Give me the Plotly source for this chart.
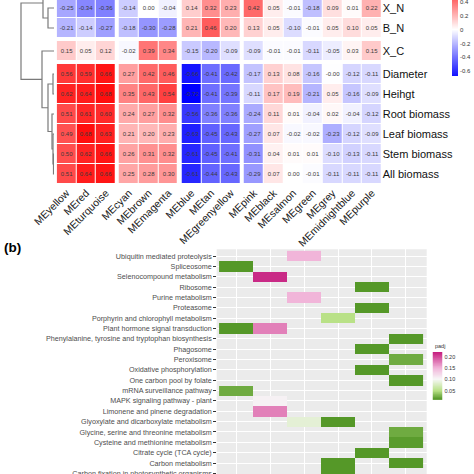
import numpy as np
import plotly.graph_objects as go

W, H = 474, 474
FONT = "Arial, Liberation Sans, sans-serif"

# ---------------- (a) module-trait correlation data ----------------
modules = ["MEyellow", "MEred", "MEturquoise", "MEcyan", "MEbrown", "MEmagenta",
           "MEblue", "MEtan", "MEgreenyellow", "MEpink", "MEblack", "MEsalmon",
           "MEgreen", "MEgrey", "MEmidnightblue", "MEpurple"]
traits = ["X_N", "B_N", "X_C", "Diameter", "Heihgt", "Root biomass",
          "Leaf biomass", "Stem biomass", "All biomass"]
col_groups = [3, 3, 3, 7]
row_groups = [2, 1, 6]

r_X_N = [-0.25, -0.34, -0.36, -0.14, 0.00, -0.04, 0.14, 0.32, 0.23, 0.42, 0.05, -0.01, -0.18, 0.09, 0.01, 0.22]
r_B_N = [-0.21, -0.14, -0.27, -0.18, -0.30, -0.28, 0.21, 0.46, 0.20, 0.13, 0.05, -0.10, -0.01, 0.05, 0.10, 0.05]
r_X_C = [0.15, 0.05, 0.12, -0.02, 0.39, 0.34, -0.15, -0.20, -0.09, -0.09, -0.01, -0.01, -0.11, -0.05, 0.03, 0.15]
r_Diameter = [0.56, 0.59, 0.66, 0.27, 0.42, 0.46, -0.66, -0.41, -0.42, -0.17, 0.13, 0.08, -0.16, -0.004, -0.12, -0.11]
r_Height = [0.62, 0.64, 0.68, 0.35, 0.43, 0.54, -0.72, -0.41, -0.39, -0.11, 0.17, 0.19, -0.21, 0.05, -0.16, -0.09]
r_Root = [0.51, 0.61, 0.60, 0.24, 0.27, 0.32, -0.56, -0.36, -0.36, -0.24, 0.11, 0.01, -0.04, 0.02, -0.04, -0.12]
r_Leaf = [0.49, 0.68, 0.63, 0.21, 0.20, 0.23, -0.63, -0.45, -0.43, -0.27, 0.07, -0.02, -0.02, -0.23, -0.12, -0.09]
r_Stem = [0.50, 0.62, 0.66, 0.26, 0.31, 0.32, -0.61, -0.45, -0.41, -0.31, 0.04, 0.01, 0.01, -0.10, -0.13, -0.11]
r_All = [0.51, 0.64, 0.66, 0.25, 0.28, 0.30, -0.61, -0.44, -0.43, -0.29, 0.07, 0.00, -0.01, -0.11, -0.11, -0.11]
corr_rows = [r_X_N, r_B_N, r_X_C, r_Diameter, r_Height, r_Root, r_Leaf, r_Stem, r_All]
corr_ticks = [-0.6, -0.4, -0.2, 0, 0.2, 0.4, 0.6]
corr_limits = [-0.72, 0.72]
corr_legend_bottom = -0.672

# row dendrogram (merge list: left, right, height); "above" is a row cut off above the view
dendro_links = [
    ("Stem biomass", "All biomass", 0.5),
    ("Leaf biomass", "n0", 1.0),
    ("Root biomass", "n1", 2.0),
    ("Diameter", "Heihgt", 1.0),
    ("n3", "n2", 6.0),
    ("X_C", "n4", 12.0),
    ("X_N", "B_N", 6.0),
    ("above", "n6", 11.0),
    ("n7", "n5", 33.0),
]

# ---------------- (b) KEGG enrichment data ----------------
pathways = ["Ubiquitin mediated proteolysis", "Spliceosome", "Selenocompound metabolism",
            "Ribosome", "Purine metabolism", "Proteasome",
            "Porphyrin and chlorophyll metabolism", "Plant hormone signal transduction",
            "Phenylalanine, tyrosine and tryptophan biosynthesis", "Phagosome", "Peroxisome",
            "Oxidative phosphorylation", "One carbon pool by folate", "mRNA surveillance pathway",
            "MAPK signaling pathway - plant", "Limonene and pinene degradation",
            "Glyoxylate and dicarboxylate metabolism", "Glycine, serine and threonine metabolism",
            "Cysteine and methionine metabolism", "Citrate cycle (TCA cycle)", "Carbon metabolism",
            "Carbon fixation in photosynthetic organisms"]
N = None
padj_g1 = [N, 0.012, N, N, N, N, N, 0.012, N, N, N, N, N, 0.022, N, N, N, N, N, N, N, N]
padj_g2 = [N, N, 0.215, N, N, N, N, 0.175, N, N, N, N, N, N, 0.105, 0.175, N, N, N, N, N, N]
padj_g3 = [0.15, N, N, N, 0.15, N, N, N, N, N, N, N, N, N, N, N, 0.085, N, N, N, N, N]
padj_g4 = [N, N, N, N, N, N, 0.05, N, N, N, N, N, N, N, N, N, 0.012, N, N, N, 0.012, 0.012]
padj_g5 = [N, N, N, 0.012, N, 0.012, N, N, N, 0.012, N, 0.012, N, N, N, N, N, N, N, 0.012, N, N]
padj_g6 = [N, N, N, N, N, N, N, N, 0.012, N, 0.022, N, 0.012, N, N, N, N, 0.022, 0.014, N, 0.012, N]
padj_cols = [padj_g1, padj_g2, padj_g3, padj_g4, padj_g5, padj_g6]
padj_ticks = [0.05, 0.10, 0.15, 0.20]
padj_limits = [0.009, 0.222]

CS_TOP = [[0, "#0000FF"], [0.5, "#FFFFFF"], [1, "#FF0000"]]
CS_BOT = [[0, "#4D9221"], [0.19, "#B8E186"], [0.43, "#F7F7F7"], [0.66, "#F1B6DA"], [1, "#C51B7D"]]

# ---------------- build top heatmap with cluster gaps ----------------
GAPX = 0.18
GAPY = 0.15

def edges_with_gaps(groups, gap):
    edges, kinds = [0.0], []
    for gi, g in enumerate(groups):
        for _ in range(g):
            edges.append(edges[-1] + 1.0)
            kinds.append("cell")
        if gi < len(groups) - 1:
            edges.append(edges[-1] + gap)
            kinds.append("gap")
    return edges, kinds

x_edges, x_kinds = edges_with_gaps(col_groups, GAPX)
y_edges, y_kinds = edges_with_gaps(row_groups, GAPY)

x_centers = [(x_edges[i] + x_edges[i + 1]) / 2 for i, k in enumerate(x_kinds) if k == "cell"]
y_centers = [(y_edges[i] + y_edges[i + 1]) / 2 for i, k in enumerate(y_kinds) if k == "cell"]

z_full, t_full = [], []
ri = 0
for yk in y_kinds:
    if yk == "gap":
        z_full.append([np.nan] * len(x_kinds))
        t_full.append([""] * len(x_kinds))
        continue
    row = corr_rows[ri]
    zr, tr = [], []
    ci = 0
    for xk in x_kinds:
        if xk == "gap":
            zr.append(np.nan)
            tr.append("")
        else:
            zr.append(row[ci])
            tr.append(f"{row[ci]:.2f}")
            ci += 1
    z_full.append(zr)
    t_full.append(tr)
    ri += 1

fig = go.Figure()

fig.add_trace(go.Heatmap(
    x=x_edges, y=y_edges, z=z_full, text=t_full, texttemplate="%{text}",
    textfont=dict(size=6, color="#3a3a3a", family=FONT),
    colorscale=CS_TOP, zmin=corr_limits[0], zmax=corr_limits[1], xgap=1, ygap=1,
    hoverinfo="skip", showscale=False, xaxis="x", yaxis="y",
))

# dendrogram
leaf_y = {name: y_centers[i] for i, name in enumerate(traits)}
leaf_y["above"] = -0.5
node_pos = {name: (yv, 0.0) for name, yv in leaf_y.items()}
dx, dy = [], []
for k, (a, b, h) in enumerate(dendro_links):
    ya, ha = node_pos[a]
    yb, hb = node_pos[b]
    dx += [ha, h, h, hb, None]
    dy += [ya, ya, yb, yb, None]
    node_pos[f"n{k}"] = ((ya + yb) / 2, h)

fig.add_trace(go.Scatter(x=dx, y=dy, mode="lines", line=dict(color="#7a7a7a", width=1.2),
                         hoverinfo="skip", showlegend=False, xaxis="x3", yaxis="y3"))

# legend bar for top heatmap (gradient over the colour limits)
cb_vals = np.linspace(corr_limits[0], corr_limits[1], 201)
fig.add_trace(go.Heatmap(x=[0], y=cb_vals, z=[[v] for v in cb_vals], colorscale=CS_TOP,
                         zmin=corr_limits[0], zmax=corr_limits[1], showscale=False,
                         hoverinfo="skip", xaxis="x4", yaxis="y4"))

# ---------------- bottom heatmap ----------------
zb = [[padj_cols[c][r] if padj_cols[c][r] is not None else np.nan for c in range(6)]
      for r in range(len(pathways))]
fig.add_trace(go.Heatmap(
    x=list(range(6)), y=list(range(len(pathways))), z=zb,
    colorscale=CS_BOT, zmin=padj_limits[0], zmax=padj_limits[1],
    hoverinfo="skip", showscale=False, xaxis="x2", yaxis="y2",
))

cb2_vals = np.linspace(padj_limits[0], padj_limits[1], 161)
fig.add_trace(go.Heatmap(x=[0], y=cb2_vals, z=[[v] for v in cb2_vals], colorscale=CS_BOT,
                         zmin=padj_limits[0], zmax=padj_limits[1], showscale=False,
                         hoverinfo="skip", xaxis="x5", yaxis="y5"))

# top legend bar: bottom at 76 px, 0.2 per 13.8 px
px_per_unit = 69.0
cb_top_val = corr_legend_bottom + 76.0 / px_per_unit

total_x = x_edges[-1]
fig.update_layout(
    width=W, height=H, margin=dict(l=0, r=0, t=0, b=0, autoexpand=False),
    paper_bgcolor="white", plot_bgcolor="rgba(0,0,0,0)",
    font=dict(family=FONT),
    showlegend=False,
    xaxis=dict(domain=[56.7 / W, 381.7 / W], range=[0, total_x], tickvals=x_centers,
               ticktext=modules, tickangle=-45, showgrid=False, zeroline=False, ticks="",
               tickfont=dict(size=10.5, color="#1a1a1a", family=FONT), anchor="y", automargin=False),
    yaxis=dict(domain=[1 - 184 / H, 1], range=[y_edges[-1], 0.1], tickvals=y_centers,
               ticktext=traits, side="right", showgrid=False, zeroline=False, ticks="",
               tickfont=dict(size=11, color="#111111", family=FONT), anchor="x", automargin=False),
    xaxis3=dict(domain=[0, 54 / W], range=[54, 0], visible=False, anchor="y3"),
    yaxis3=dict(domain=[1 - 184 / H, 1], range=[y_edges[-1], 0.1], visible=False, anchor="x3"),
    xaxis4=dict(domain=[452 / W, 458 / W], range=[-0.5, 0.5], visible=False, anchor="y4"),
    yaxis4=dict(domain=[1 - 76.0 / H, 1], range=[corr_legend_bottom, cb_top_val], side="right",
                tickvals=corr_ticks, ticktext=[("%g" % v) for v in corr_ticks],
                showgrid=False, zeroline=False, ticks="", anchor="x4", automargin=False,
                ticklabelstandoff=1, ticklabeloverflow="allow",
                tickfont=dict(size=6, color="#333333", family=FONT)),
    xaxis2=dict(domain=[216.7 / W, 426.7 / W], range=[-0.57, 5.61], tickvals=list(range(6)),
                showticklabels=False, ticks="", showgrid=True, gridcolor="white", gridwidth=1,
                zeroline=False, anchor="y2", automargin=False),
    yaxis2=dict(domain=[0, 1 - 249.3 / H], range=[21.06, -0.65], tickvals=list(range(len(pathways))),
                ticktext=pathways, showgrid=True, gridcolor="white", gridwidth=1, zeroline=False,
                ticks="outside", ticklen=2.5, tickwidth=0.8, tickcolor="#333333",
                ticklabeloverflow="allow",
                tickfont=dict(size=7.2, color="#4D4D4D", family=FONT), anchor="x2", automargin=False),
    xaxis5=dict(domain=[432.5 / W, 442.5 / W], range=[-0.5, 0.5], visible=False, anchor="y5"),
    yaxis5=dict(domain=[1 - 400 / H, 1 - 352 / H], range=padj_limits, side="right",
                tickvals=padj_ticks, ticktext=[f"{v:.2f}" for v in padj_ticks],
                showgrid=False, zeroline=False, ticks="", anchor="x5", automargin=False,
                ticklabelstandoff=1,
                tickfont=dict(size=5.5, color="#333333", family=FONT)),
    shapes=[dict(type="rect", xref="x2 domain", yref="y2 domain", x0=0, x1=1, y0=0, y1=1,
                 fillcolor="#EBEBEB", line=dict(width=0), layer="below")],
    annotations=[
        dict(text="<b>(b)</b>", x=1.5 / W, y=1 - 247.5 / H, xref="paper", yref="paper",
             xanchor="left", yanchor="middle", showarrow=False,
             font=dict(size=13.5, color="black", family=FONT)),
        dict(text="padj", x=432.5 / W, y=1 - 350.5 / H, xref="paper", yref="paper",
             xanchor="left", yanchor="bottom", showarrow=False,
             font=dict(size=5.5, color="#333333", family=FONT)),
    ],
)

fig.write_html("out.html", config={"displayModeBar": False},
               post_script="document.documentElement.style.margin='0';"
                           "document.body.style.margin='0';"
                           "document.body.style.padding='0';")
